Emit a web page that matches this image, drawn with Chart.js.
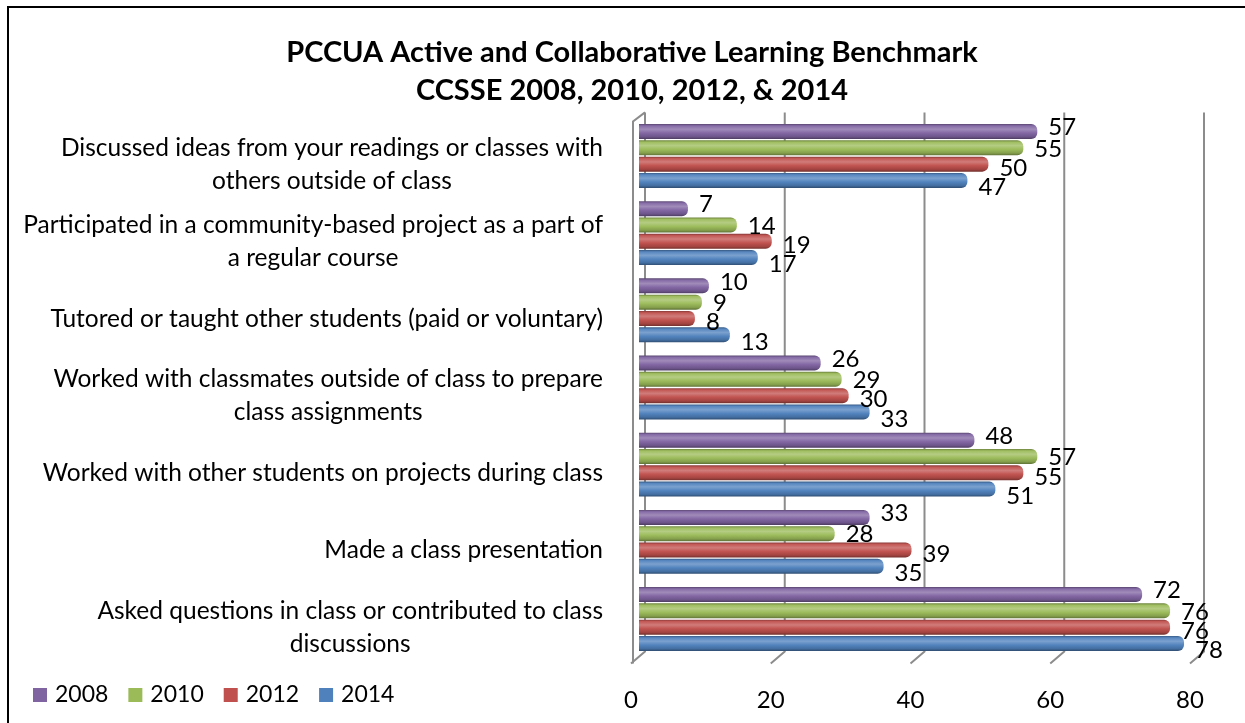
<!DOCTYPE html>
<html>
<head>
<meta charset="utf-8">
<script src="https://cdn.jsdelivr.net/npm/chart.js@4/dist/chart.umd.min.js"></script>
<style>
html, body { margin: 0; padding: 0; background: #fff; }
</style>
</head>
<body>
<canvas id="graph1" width="1245" height="723"></canvas>
<script>
var categories = [
    ['Discussed ideas from your readings or classes with', 'others outside of class'],
    ['Participated in a community-based project as a part of', 'a regular course'],
    ['Tutored or taught other students (paid or voluntary)'],
    ['Worked with classmates outside of class to prepare', 'class assignments'],
    ['Worked with other students on projects during class'],
    ['Made a class presentation'],
    ['Asked questions in class or contributed to class', 'discussions']
];
var years = ['2008', '2010', '2012', '2014'];
var values2008 = [57, 7, 10, 26, 48, 33, 72];
var values2010 = [55, 14, 9, 29, 57, 28, 76];
var values2012 = [50, 19, 8, 30, 55, 39, 76];
var values2014 = [47, 17, 13, 33, 51, 35, 78];
var xTicks = [0, 20, 40, 60, 80];

var colors = ['#8064A2', '#9BBB59', '#C0504D', '#4F81BD'];
var labelShift = [-4, 1, 4, 7];
var FONT = 'Lato, "Liberation Sans", sans-serif';

function shade(hex, f) {
    var n = parseInt(hex.slice(1), 16);
    var r = (n >> 16) & 255, g = (n >> 8) & 255, b = n & 255;
    function c(v) {
        v = f >= 1 ? v + (255 - v) * (f - 1) : v * f;
        return Math.max(0, Math.min(255, Math.round(v)));
    }
    return 'rgb(' + c(r) + ',' + c(g) + ',' + c(b) + ')';
}

// frame round the picture
var frame = {
    id: 'frame',
    beforeDraw: function(chart) {
        var c = chart.ctx;
        c.save();
        c.fillStyle = '#fff';
        c.fillRect(0, 0, chart.width, chart.height);
        c.strokeStyle = '#000';
        c.lineWidth = 2;
        c.beginPath();
        c.moveTo(8, chart.height);
        c.lineTo(8, 7);
        c.lineTo(chart.width, 7);
        c.stroke();
        c.restore();
    }
};

// back wall grid + slanted floor ticks
var grid3d = {
    id: 'grid3d',
    beforeDatasetsDraw: function(chart) {
        var c = chart.ctx, x = chart.scales.x, a = chart.chartArea;
        var top = a.top - 5, floor = a.bottom - 6;
        c.save();
        c.strokeStyle = '#8c8c8c';
        c.lineWidth = 2;
        xTicks.forEach(function(v) {
            var px = x.getPixelForValue(v);
            c.beginPath();
            c.moveTo(px + 6, top);
            c.lineTo(px + 6, floor);
            c.lineTo(px - 8, floor + 12);
            c.stroke();
        });
        var p0 = x.getPixelForValue(0);
        c.beginPath();
        c.moveTo(p0 + 6, top);
        c.lineTo(p0 - 6, top + 9);
        c.lineTo(p0 - 6, floor + 12);
        c.stroke();
        c.restore();

        // cylinder shading for every bar
        chart.data.datasets.forEach(function(ds, i) {
            var base = colors[i];
            chart.getDatasetMeta(i).data.forEach(function(el) {
                var p = el.getProps(['y', 'height'], true);
                var g = c.createLinearGradient(0, p.y - p.height / 2, 0, p.y + p.height / 2);
                g.addColorStop(0, shade(base, 0.7));
                g.addColorStop(0.12, shade(base, 1.05));
                g.addColorStop(0.35, shade(base, 1.25));
                g.addColorStop(0.6, shade(base, 1.02));
                g.addColorStop(0.85, shade(base, 0.85));
                g.addColorStop(1, shade(base, 0.6));
                el.options = Object.assign({}, el.options, {backgroundColor: g});
            });
        });
    },
    afterDatasetsDraw: function(chart) {
        var c = chart.ctx;
        c.save();
        c.font = '24px ' + FONT;
        c.fillStyle = '#000';
        c.textAlign = 'left';
        c.textBaseline = 'middle';
        chart.data.datasets.forEach(function(ds, i) {
            chart.getDatasetMeta(i).data.forEach(function(el, j) {
                var p = el.getProps(['x', 'y'], true);
                c.fillText(String(ds.data[j]), p.x + 11, p.y + labelShift[i]);
            });
        });
        c.restore();
    },
    afterDraw: function(chart) {
        var c = chart.ctx, y = chart.scales.y;
        c.save();
        c.font = '24.5px ' + FONT;
        c.fillStyle = '#000';
        c.textAlign = 'center';
        c.textBaseline = 'middle';
        var right = 603, lh = 33;
        categories.forEach(function(lines, i) {
            var w = 0;
            lines.forEach(function(t) { w = Math.max(w, c.measureText(t).width); });
            var cy = y.getPixelForValue(i) + 8.5;
            var y0 = cy - (lines.length - 1) * lh / 2;
            lines.forEach(function(t, k) {
                c.fillText(t, right - w / 2, y0 + k * lh);
            });
        });

        // legend along the bottom left
        c.font = '23px ' + FONT;
        c.textAlign = 'left';
        var lx = 33, ly = 695;
        chart.data.datasets.forEach(function(ds, i) {
            c.fillStyle = colors[i];
            c.fillRect(lx, ly - 7, 14, 14);
            c.fillStyle = '#000';
            c.fillText(ds.label, lx + 22, ly);
            lx += 22 + c.measureText(ds.label).width + 20;
        });
        c.restore();
    }
};

var ctx = document.getElementById('graph1').getContext('2d');
var data = {
    labels: categories.map(function(l) { return l.join(' '); }),
    datasets: [values2008, values2010, values2012, values2014].map(function(vals, i) {
        return {
            label: years[i],
            data: vals,
            backgroundColor: colors[i],
            borderWidth: 0,
            borderRadius: 6,
            categoryPercentage: 0.845,
            barPercentage: 0.92
        };
    })
};

var config = {
    type: 'bar',
    data: data,
    options: {
        indexAxis: 'y',
        responsive: false,
        animation: false,
        devicePixelRatio: 1,
        layout: { padding: { left: 66, right: 47, top: 0, bottom: 0 } },
        scales: {
            x: {
                min: 0,
                max: 80,
                grid: { display: false },
                border: { display: false },
                ticks: {
                    stepSize: 20,
                    padding: 20,
                    labelOffset: -8,
                    color: '#000',
                    font: { family: FONT, size: 24 }
                },
                afterFit: function(s) { s.height = 65.4; }
            },
            y: {
                grid: { display: false },
                border: { display: false },
                ticks: { display: false },
                afterFit: function(s) { s.width = 573; }
            }
        },
        plugins: {
            legend: { display: false },
            tooltip: { enabled: false },
            title: {
                display: true,
                text: ['PCCUA Active and Collaborative Learning Benchmark', 'CCSSE 2008, 2010, 2012, & 2014'],
                color: '#000',
                font: { family: FONT, size: 29, weight: 'bold', lineHeight: 1.324 },
                padding: { top: 33, bottom: 7.6 }
            }
        }
    },
    plugins: [frame, grid3d]
};
var graph1 = new Chart(ctx, config);
</script>
</body>
</html>
